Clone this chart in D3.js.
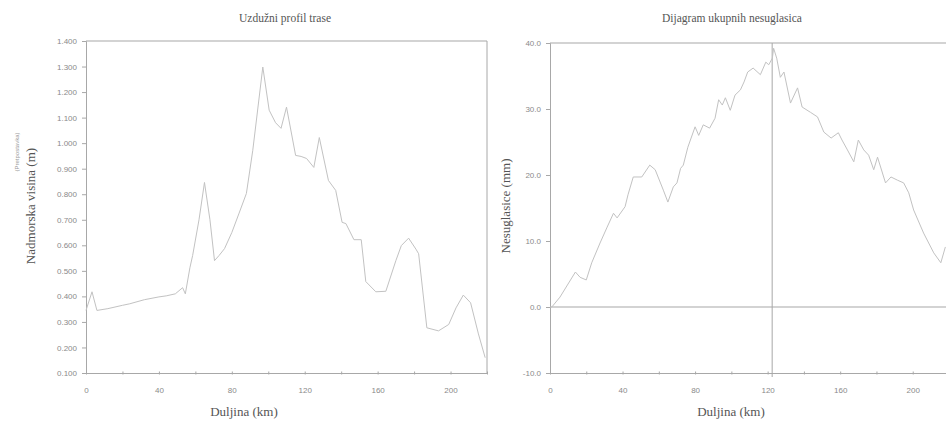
<!DOCTYPE html>
<html>
<head>
<meta charset="utf-8">
<script src="https://cdn.jsdelivr.net/npm/d3@7"></script>
<style>
  html, body { margin: 0; padding: 0; background: #fff; }
  svg { display: block; }
  text.serif { font-family: "Liberation Serif", serif !important; }
  .tick text, .small { font-family: "Liberation Sans Narrow", "Liberation Sans", Arial, sans-serif; }
</style>
</head>
<body>
<svg id="chart" width="946" height="422"></svg>
<script>
// ---- Data ----
const profileKm = [0, 3.3, 6, 12, 20, 24, 32, 40, 44, 49, 53, 54.5, 57, 58.5, 62, 65, 68, 70.5, 73, 76, 80, 84, 88, 91.5, 97, 100.5, 104, 107, 110, 115, 118, 121, 125, 128, 133, 137, 140.5, 142.6, 147, 151, 153.5, 159, 164.5, 170, 173, 177, 181, 182.5, 187, 193.4, 199, 203, 207, 211, 215.3, 219];
const profileElev = [345, 418, 345, 352, 365, 371, 387, 398, 402, 410, 434, 410, 512, 560, 700, 846, 700, 540, 560, 587, 650, 726, 803, 972, 1298, 1129, 1080, 1058, 1141, 952, 948, 940, 905, 1022, 854, 815, 690, 685, 622, 622, 458, 418, 420, 540, 599, 628, 585, 567, 277, 265, 290, 355, 405, 375, 253, 160];

const misKm = [0, 1, 5.5, 12, 14, 16.6, 20, 23, 27.6, 31.5, 35, 37, 41.4, 43, 45.9, 50.6, 55, 58, 62.5, 65, 68, 70, 72, 73.5, 76, 80, 82, 84.5, 88, 91, 93, 95, 96.7, 99.4, 102, 105, 107, 109, 112, 116, 119, 120.6, 122.6, 123.3, 125, 127, 129, 132.6, 136.5, 139, 143.6, 147.5, 151, 155, 159, 161, 164, 167.5, 170, 173, 175.7, 178.5, 180.6, 185, 188, 191.7, 195, 197.8, 200.5, 206, 211.6, 215.5, 218];
const misVal = [0, 0, 1.5, 4.4, 5.3, 4.5, 4.1, 6.7, 9.7, 12.1, 14.2, 13.5, 15.2, 17, 19.7, 19.7, 21.5, 20.8, 17.7, 15.9, 18.2, 18.8, 21, 21.5, 24.2, 27.3, 26, 27.6, 27.1, 28.6, 31.4, 30.6, 31.7, 29.8, 32.1, 32.9, 34.1, 35.6, 36.2, 35.2, 37.1, 36.7, 37.7, 39.2, 37.7, 34.8, 35.6, 30.9, 33.2, 30.3, 29.5, 28.8, 26.5, 25.6, 26.4, 25.3, 23.8, 22, 25.3, 23.8, 23, 20.8, 22.7, 18.8, 19.7, 19.2, 18.8, 17.3, 14.7, 11.2, 8.2, 6.7, 9.1];

const kmTicks = [0, 40, 80, 120, 160, 200];
const kmMinorTicks = [0, 20, 40, 60, 80, 100, 120, 140, 160, 180, 200, 220];
const elevTicks = [100, 200, 300, 400, 500, 600, 700, 800, 900, 1000, 1100, 1200, 1300, 1400];
const elevTickLabels = ["0.100", "0.200", "0.300", "0.400", "0.500", "0.600", "0.700", "0.800", "0.900", "1.000", "1.100", "1.200", "1.300", "1.400"];
const misTicks = [-10, 0, 10, 20, 30, 40];
const misTickLabels = ["-10.0", "0.0", "10.0", "20.0", "30.0", "40.0"];
const peakKm = 122.5;

// ---- Drawing ----
const svg = d3.select("#chart");
const axisCol = "#a8a8a8";
const lineCol = "#c2c2c2";
const textCol = "#555";
const tickCol = "#8a8a8a";

function serifText(sel) {
  return sel.attr("class", "serif").style("font-family", '"Liberation Serif", serif');
}

function drawPanel(opt) {
  const g = svg.append("g");
  const x = d3.scaleLinear().domain([0, 220]).range([opt.x0, opt.x1]);
  const y = d3.scaleLinear().domain(opt.yDomain).range([opt.yBottom, opt.yTop]);

  g.append("line").attr("x1", opt.x0).attr("x2", opt.x1).attr("y1", opt.yTop).attr("y2", opt.yTop)
    .attr("stroke", axisCol).attr("stroke-width", 1.2);
  if (opt.rightBorder) {
    g.append("line").attr("x1", opt.x1).attr("x2", opt.x1).attr("y1", opt.yTop).attr("y2", opt.yBottom)
      .attr("stroke", axisCol).attr("stroke-width", 1);
  }

  const yAxis = d3.axisLeft(y).tickValues(opt.yTicks).tickSize(4)
    .tickFormat((d, i) => opt.yLabels[i]);
  const ya = g.append("g").attr("transform", `translate(${opt.x0},0)`).call(yAxis);
  ya.attr("font-family", null);
  ya.select(".domain").attr("stroke", axisCol);
  ya.selectAll(".tick line").attr("stroke", axisCol);
  ya.selectAll("text").attr("fill", tickCol).attr("font-size", 8).attr("dx", -2);

  const xMinor = d3.axisBottom(x).tickValues(kmMinorTicks).tickSize(3).tickFormat("");
  const xm = g.append("g").attr("transform", `translate(0,${opt.yBottom - 1.5})`).call(xMinor);
  xm.select(".domain").remove();
  xm.selectAll(".tick line").attr("stroke", axisCol);

  const xAxis = d3.axisBottom(x).tickValues(kmTicks).tickSize(0).tickPadding(14);
  const xa = g.append("g").attr("transform", `translate(0,${opt.yBottom})`).call(xAxis);
  xa.attr("font-family", null);
  xa.select(".domain").attr("stroke", axisCol).attr("stroke-width", 1.2);
  xa.selectAll("text").attr("fill", tickCol).attr("font-size", 8);

  if (opt.extra) opt.extra(g, x, y);

  const line = d3.line().x(d => x(d[0])).y(d => y(d[1]));
  g.append("path").datum(opt.xs.map((k, i) => [k, opt.ys[i]]))
    .attr("d", line).attr("fill", "none").attr("stroke", lineCol).attr("stroke-width", 1);

  serifText(g.append("text")).attr("x", opt.titleX).attr("y", 22).attr("text-anchor", "middle")
    .attr("font-size", 11.5).attr("fill", textCol).text(opt.title);
  serifText(g.append("text")).attr("x", opt.xLabelX).attr("y", 416).attr("text-anchor", "middle")
    .attr("font-size", 13).attr("fill", textCol).text("Duljina (km)");
  serifText(g.append("text")).attr("transform", `translate(${opt.yLabelX},${opt.yLabelY}) rotate(-90)`)
    .attr("text-anchor", "middle").attr("font-size", 13)
    .attr("fill", textCol).text(opt.yTitle);
}

drawPanel({
  x0: 86, x1: 487, yTop: 41, yBottom: 373,
  yDomain: [100, 1400], yTicks: elevTicks, yLabels: elevTickLabels,
  xs: profileKm, ys: profileElev, rightBorder: true,
  title: "Uzdužni profil trase", titleX: 285, xLabelX: 244,
  yTitle: "Nadmorska visina (m)", yLabelX: 35, yLabelY: 206,
  extra: null
});

svg.append("text").attr("class", "small").attr("transform", "translate(19,152) rotate(-90)")
  .attr("text-anchor", "middle").attr("font-size", 6)
  .attr("fill", "#999").text("(Pretpostavka)");

drawPanel({
  x0: 550, x1: 949, yTop: 43, yBottom: 373,
  yDomain: [-10, 40], yTicks: misTicks, yLabels: misTickLabels,
  xs: misKm, ys: misVal, rightBorder: false,
  title: "Dijagram ukupnih nesuglasica", titleX: 732, xLabelX: 731,
  yTitle: "Nesuglasice (mm)", yLabelX: 510, yLabelY: 206,
  extra: (g, x, y) => {
    g.append("line").attr("x1", x(0)).attr("x2", x(220)).attr("y1", y(0)).attr("y2", y(0))
      .attr("stroke", axisCol).attr("stroke-width", 1.2);
    g.append("line").attr("x1", x(peakKm)).attr("x2", x(peakKm)).attr("y1", y(40)).attr("y2", y(-10) + 4)
      .attr("stroke", axisCol).attr("stroke-width", 1);
  }
});
</script>
</body>
</html>
